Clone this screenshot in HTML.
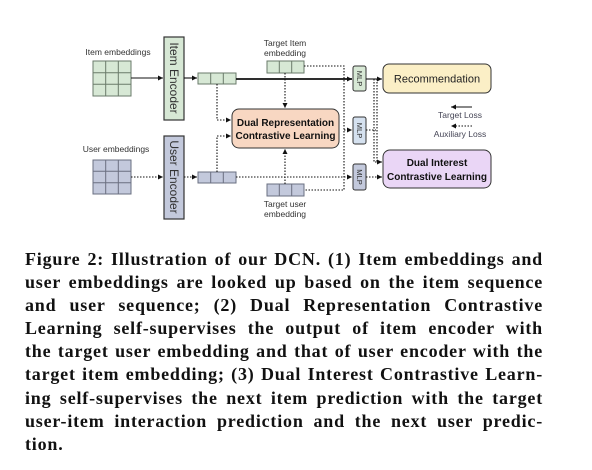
<!DOCTYPE html>
<html><head><meta charset="utf-8"><style>
body{margin:0;width:592px;height:470px;background:#fff;position:relative;overflow:hidden}
svg{position:absolute;left:0;top:0}
.cap{position:absolute;left:25px;width:518px;top:248px;font-family:"Liberation Serif",serif;font-weight:bold;font-size:18px;letter-spacing:0.8px;line-height:23.1px;color:#111}
.cap div{text-align:justify;text-align-last:justify;white-space:nowrap;height:23.1px}
.cap div.l{text-align-last:left}
</style></head><body>
<svg width="592" height="240" viewBox="0 0 592 240" font-family="Liberation Sans, sans-serif">
<defs>
<marker id="a" markerWidth="6" markerHeight="6" refX="5" refY="3" orient="auto" markerUnits="userSpaceOnUse"><path d="M0,0.5 L5,3 L0,5.5z" fill="#111"/></marker>
</defs>
<g font-size="8.5" fill="#333" text-anchor="middle">
<text x="118" y="55">Item embeddings</text>
<text x="116" y="152">User embeddings</text>
<text x="285" y="46">Target Item</text>
<text x="285" y="56">embedding</text>
<text x="285" y="207">Target user</text>
<text x="285" y="217">embedding</text>
<text x="460" y="118" fill="#445">Target Loss</text>
<text x="460" y="137" fill="#445">Auxiliary Loss</text>
</g>
<g stroke="#6a7a6a" stroke-width="1" fill="#d7e8d5">
<rect x="93" y="61" width="38" height="35"/>
<path d="M105.7,61V96M118.3,61V96M93,72.7H131M93,84.3H131" fill="none"/>
<rect x="198" y="73" width="38" height="11"/>
<path d="M210.7,73V84M223.3,73V84" fill="none"/>
<rect x="267" y="61" width="37" height="12"/>
<path d="M279.3,61V73M291.7,61V73" fill="none"/>
</g>
<g stroke="#6a6f80" stroke-width="1" fill="#c3c9dc">
<rect x="93" y="160" width="38" height="34"/>
<path d="M105.7,160V194M118.3,160V194M93,171.3H131M93,182.7H131" fill="none"/>
<rect x="198" y="172" width="38" height="11"/>
<path d="M210.7,172V183M223.3,172V183" fill="none"/>
<rect x="267" y="184" width="37" height="12"/>
<path d="M279.3,184V196M291.7,184V196" fill="none"/>
</g>
<rect x="164" y="37" width="20" height="83" fill="#d7e8d5" stroke="#333" stroke-width="1.2"/>
<rect x="164" y="136" width="20" height="83" fill="#c3c9dc" stroke="#333" stroke-width="1.2"/>
<text transform="translate(170,78) rotate(90)" font-size="12" text-anchor="middle" fill="#333">Item Encoder</text>
<text transform="translate(170,177) rotate(90)" font-size="12" text-anchor="middle" fill="#333">User Encoder</text>
<rect x="232" y="109" width="107" height="39" rx="7" fill="#f8d7c2" stroke="#333"/>
<text x="285.5" y="126" font-size="10" font-weight="bold" text-anchor="middle" fill="#111">Dual Representation</text>
<text x="285.5" y="139" font-size="10" font-weight="bold" text-anchor="middle" fill="#111">Contrastive Learning</text>
<rect x="383" y="64" width="108" height="29" rx="6" fill="#fbefc6" stroke="#333"/>
<text x="437" y="82.5" font-size="11" text-anchor="middle" fill="#222">Recommendation</text>
<rect x="383" y="150" width="108" height="38" rx="7" fill="#ead6f6" stroke="#333"/>
<text x="437" y="166" font-size="10" font-weight="bold" text-anchor="middle" fill="#111">Dual Interest</text>
<text x="437" y="180" font-size="10" font-weight="bold" text-anchor="middle" fill="#111">Contrastive Learning</text>
<g stroke="#333" stroke-width="1">
<rect x="353" y="66" width="13" height="25" rx="2" fill="#d7e8d5"/>
<rect x="353" y="117" width="13" height="27" rx="2" fill="#d5e1ef"/>
<rect x="353" y="164" width="13" height="26" rx="2" fill="#c3c9dc"/>
</g>
<g font-size="7.5" fill="#333" text-anchor="middle">
<text transform="translate(357,78.5) rotate(90)">MLP</text>
<text transform="translate(357,130.5) rotate(90)">MLP</text>
<text transform="translate(357,177) rotate(90)">MLP</text>
</g>
<g stroke="#111" fill="none" stroke-width="1.1">
<path d="M131,78H163" marker-end="url(#a)"/>
<path d="M184,78H197" marker-end="url(#a)"/>
<path d="M236,79H352" stroke-width="1.8" marker-end="url(#a)"/>
<path d="M366,79H382" marker-end="url(#a)"/>
<path d="M472,107H451" marker-end="url(#a)"/>
</g>
<g stroke="#111" fill="none" stroke-width="1.1" stroke-dasharray="1.5,1.5">
<path d="M131,177H163" marker-end="url(#a)"/>
<path d="M184,177H197" marker-end="url(#a)"/>
<path d="M236,177H352" marker-end="url(#a)"/>
<path d="M304,66H344V190H304"/>
<path d="M344,130H352" marker-end="url(#a)"/>
<path d="M285,73V108" marker-end="url(#a)"/>
<path d="M285,184V149" marker-end="url(#a)"/>
<path d="M217,84V120H231" marker-end="url(#a)"/>
<path d="M217,172V136H231" marker-end="url(#a)"/>
<path d="M366,130H376"/>
<path d="M374,79V162H382" marker-end="url(#a)"/>
<path d="M377,79V162"/>
<path d="M366,177H382" marker-end="url(#a)"/>
<path d="M472,126H451" marker-end="url(#a)"/>
</g>
</svg>
<div class="cap">
<div>Figure 2: Illustration of our DCN. (1) Item embeddings and</div>
<div>user embeddings are looked up based on the item sequence</div>
<div>and user sequence; (2) Dual Representation Contrastive</div>
<div>Learning self-supervises the output of item encoder with</div>
<div>the target user embedding and that of user encoder with the</div>
<div>target item embedding; (3) Dual Interest Contrastive Learn-</div>
<div>ing self-supervises the next item prediction with the target</div>
<div>user-item interaction prediction and the next user predic-</div>
<div class="l">tion.</div>
</div>
</body></html>
